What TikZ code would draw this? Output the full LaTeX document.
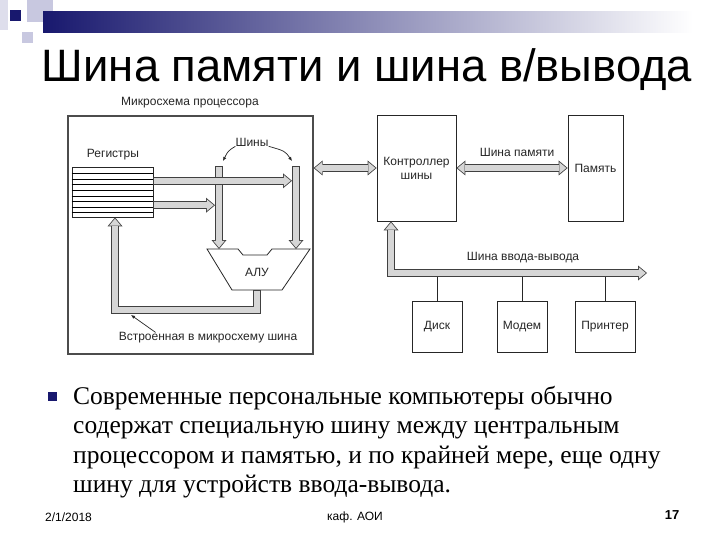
\documentclass[tikz,border=0pt]{standalone}
\usepackage{fontspec}
\setmainfont{Liberation Serif}
\setsansfont{Liberation Sans}
\usetikzlibrary{arrows.meta,calc}
\definecolor{slidenavy}{RGB}{24,24,110}
\definecolor{slidelilac}{RGB}{200,200,224}
\definecolor{busgray}{RGB}{214,214,214}
\tikzset{
  outer tip/.tip={Triangle[length=9pt 0 0,width=15pt 0 0,line width=0pt 0 0]},
  inner tip/.tip={Triangle[length=7pt 0 0,width=11.6pt 0 0,line width=0pt 0 0]},
}

\begin{document}
\begin{tikzpicture}[x=1pt,y=-1pt,
    lbl/.style={font=\sffamily\fontsize{12}{14}\selectfont, text=black!85, inner sep=0pt},
    box/.style={draw=black!85, line width=0.8pt, inner sep=0pt, lbl},
    bus/.style={line width=8pt, draw=black!75, -{outer tip},
        postaction={draw=busgray, line width=6.4pt, -{inner tip}, shorten >=1.25pt, shorten <=0.8pt}},
    busboth/.style={line width=8pt, draw=black!75, {outer tip}-{outer tip},
        postaction={draw=busgray, line width=6.4pt, {inner tip}-{inner tip}, shorten >=1.25pt, shorten <=1.25pt}},
    ptr/.style={draw=black!85, line width=0.7pt, -{Latex[length=4pt,width=3.5pt]}},
    bodytext/.style={font=\fontsize{25.5}{29}\selectfont, inner sep=0pt, anchor=base west},
    foot/.style={font=\sffamily\fontsize{12}{14}\selectfont, inner sep=0pt},
]
    \useasboundingbox (0,0) rectangle (720,540);
    \fill[white] (0,0) rectangle (720,540);
    % ---- slide header ----
    \fill[slidelilac!60] (0,0) rectangle (8,30);
    \fill[slidelilac] (27,0) rectangle (53,22);
    \fill[slidelilac] (22,32) rectangle (33,43);
    \fill[slidenavy] (10,10) rectangle (21,21);
    \shade[left color=slidenavy, right color=white] (43,12) rectangle (693,33);
    \node[font=\sffamily\fontsize{45.4}{50}\selectfont, anchor=base, inner sep=0pt] (title) at (367,82) {Шина памяти и шина в/вывода};

    % ---- processor chip ----
    \node[draw=black!70, line width=1.2pt, minimum width=245pt, minimum height=238pt, inner sep=0pt] (proc) at (190.5,235) {};
    \node[lbl] (proclbl) at (190,103) {Микросхема процессора};
    \node[box, minimum width=81pt, minimum height=50pt] (regs) at (112.5,192) {};
    \foreach \ry in {173,179,184,190,196,201,207,212}
        \draw[line width=0.7pt] (regs.west |- 0,\ry) -- (regs.east |- 0,\ry);
    \node[lbl] (regslbl) at (113,155) {Регистры};
    % ALU
    \draw[line width=0.8pt, black!85] (207,249) -- (238,249) -- (243,255) -- (267,255) -- (272,249)
        -- (310,249) -- (282,290) -- (232,290) -- cycle;
    \node[lbl] (alu) at (257,272) {АЛУ};
    \coordinate (ltop) at (219,166);
    \coordinate (rtop) at (296,166);
    \coordinate (alutop) at (257,249);
    \coordinate (alubot) at (257,290);
    \coordinate (fb) at (115,310);
    \coordinate (regup) at ($(regs.north east)!0.28!(regs.south east)$);
    \coordinate (reglo) at ($(regs.north east)!0.76!(regs.south east)$);
    % internal buses
    \draw[bus] (ltop) -- (ltop |- alutop);
    \draw[bus] (rtop) -- (rtop |- alutop);
    \draw[bus] (regup) -- ([xshift=-4pt]regup -| rtop);
    \draw[bus] (reglo) -- ([xshift=-4pt]reglo -| ltop);
    \draw[bus] (alubot) |- (fb) -- (fb |- regs.south);
    % bus labels with pointers
    \node[lbl] (shiny) at (252,142) {Шины};
    \coordinate (lptr) at ($(ltop)+(4,-5)$);
    \coordinate (rptr) at ($(rtop)+(-4,-5)$);
    \draw[ptr] (shiny.south west) .. controls (228,151) .. (lptr);
    \draw[ptr] (shiny.south east) .. controls (285,151) .. (rptr);
    \node[lbl] (embed) at (208,338) {Встроенная в микросхему шина};
    \coordinate (eptr) at (131,315);
    \draw[ptr] ($(embed.north west)+(37,0)$) -- (eptr);

    % ---- bus controller, memory, devices ----
    \node[box, minimum width=79pt, minimum height=106pt, align=center] (ctrl) at (416.5,168) {Контроллер\\шины};
    \node[box, minimum width=55pt, minimum height=106pt] (mem) at (595.5,168) {Память};
    \node[box, minimum width=50pt, minimum height=51pt] (disk) at (437,326.5) {Диск};
    \node[box, minimum width=50pt, minimum height=51pt] (modem) at (522,326.5) {Модем};
    \node[box, minimum width=60pt, minimum height=51pt] (printer) at (605,326.5) {Принтер};
    \coordinate (io) at (391,273);
    \coordinate (ioend) at (647,273);
    \foreach \dev in {disk,modem,printer}
        \draw[line width=0.8pt, black!85] (\dev.north) -- (\dev.north |- io);
    \draw[busboth] (proc.east |- ctrl.west) -- (ctrl.west);
    \draw[busboth] (ctrl.east) -- (mem.west);
    \draw[busboth] (io |- ctrl.south) -- (io) -- (ioend);
    \node[lbl] (memlbl) at (517,152) {Шина памяти};
    \node[lbl] (iolbl) at (523,258) {Шина ввода-вывода};

    % ---- bullet text ----
    \node[fill=slidenavy, minimum size=9pt, inner sep=0pt] (bullet) at (52.5,396.5) {};
    \foreach \ln/\ty/\tx in {1/404/{Современные персональные компьютеры обычно},
                             2/433.5/{содержат специальную шину между центральным},
                             3/463/{процессором и памятью, и по крайней мере, еще одну},
                             4/492/{шину для устройств ввода-вывода.}}
        \node[bodytext] (line\ln) at (73,\ty) {\tx};

    % ---- footer ----
    \node[foot, anchor=base west] (date) at (45,521) {2/1/2018};
    \node[foot] (dept) at (355,517) {каф. АОИ};
    \node[foot, font=\sffamily\bfseries\fontsize{13}{15}\selectfont] (page) at (672,515) {17};
\end{tikzpicture}
\end{document}
